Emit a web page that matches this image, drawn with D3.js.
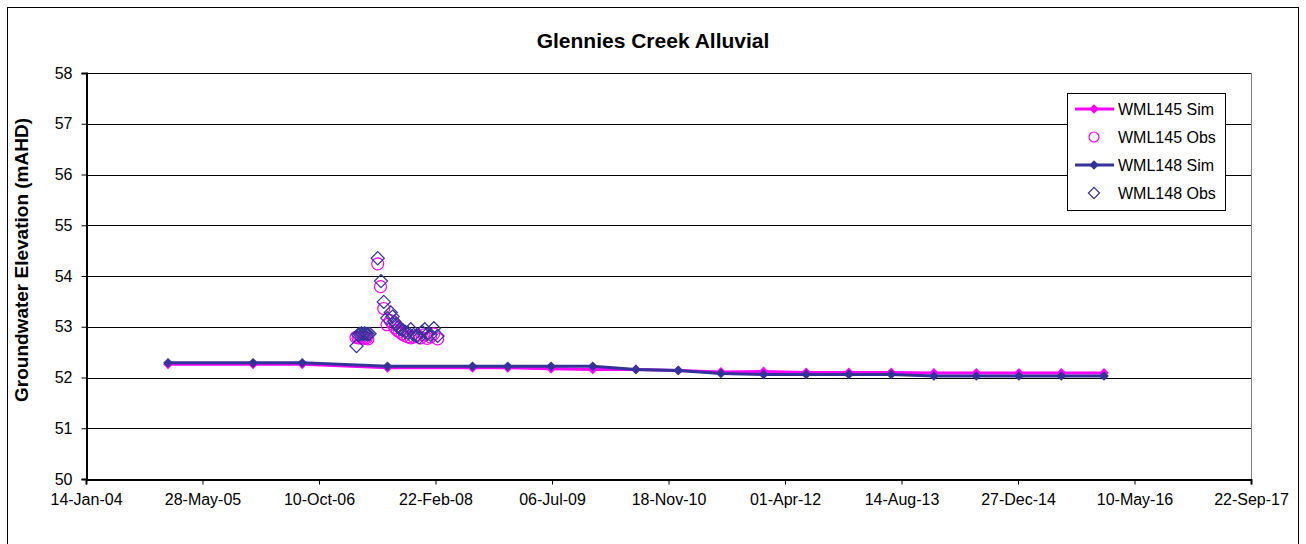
<!DOCTYPE html>
<html>
<head>
<meta charset="utf-8">
<script src="https://cdn.jsdelivr.net/npm/d3@7"></script>
<style>
  body { margin: 0; background: #fff; }
  svg { display: block; font-family: "Liberation Sans", Arial, sans-serif; }
</style>
</head>
<body>
<svg width="1306" height="544"></svg>
<script>
const width = 1306;
const height = 544;

// 模拟值 (Sim) 日期
const simDates = ["2004-12-31", "2005-12-31", "2006-07-30", "2007-07-31", "2008-07-30",
  "2008-12-28", "2009-07-02", "2009-12-28", "2010-07-01", "2010-12-30", "2011-07-01",
  "2011-12-31", "2012-07-01", "2012-12-31", "2013-07-01", "2013-12-31", "2014-07-01",
  "2014-12-31", "2015-07-01", "2015-12-31"];
const wml145Sim = [52.26, 52.26, 52.26, 52.19, 52.19, 52.19, 52.17, 52.16, 52.16, 52.14, 52.11,
  52.12, 52.10, 52.10, 52.10, 52.09, 52.09, 52.09, 52.09, 52.09];
const wml148Sim = [52.29, 52.29, 52.29, 52.22, 52.22, 52.22, 52.22, 52.22, 52.16, 52.14, 52.08,
  52.06, 52.06, 52.06, 52.06, 52.03, 52.03, 52.03, 52.03, 52.03];

// 观测值 (Obs)
const wml145ObsDates = ["2007-03-18", "2007-03-27", "2007-04-03", "2007-04-10", "2007-04-17",
  "2007-04-24", "2007-05-01", "2007-05-08", "2007-06-19", "2007-07-01", "2007-07-15",
  "2007-07-29", "2007-08-12", "2007-08-22", "2007-09-01", "2007-09-11", "2007-09-21",
  "2007-10-01", "2007-10-12", "2007-10-26", "2007-11-08", "2007-11-22", "2007-12-06",
  "2007-12-20", "2008-01-03", "2008-01-17", "2008-01-31", "2008-02-14", "2008-03-02"];
const wml145Obs = [52.79, 52.78, 52.78, 52.79, 52.78, 52.77, 52.78, 52.76, 54.24, 53.79, 53.36,
  53.04, 53.12, 53.05, 52.98, 52.93, 52.90, 52.86, 52.83, 52.80, 52.78, 52.80, 52.83,
  52.78, 52.84, 52.77, 52.80, 52.86, 52.76];
const wml148ObsDates = ["2007-03-20", "2007-03-27", "2007-04-03", "2007-04-10", "2007-04-17",
  "2007-04-24", "2007-05-01", "2007-05-08", "2007-05-15", "2007-06-19", "2007-07-03",
  "2007-07-15", "2007-07-30", "2007-08-14", "2007-08-22", "2007-08-30", "2007-09-07",
  "2007-09-15", "2007-09-23", "2007-10-03", "2007-10-15", "2007-10-27", "2007-11-08",
  "2007-11-20", "2007-12-02", "2007-12-14", "2007-12-26", "2008-01-07", "2008-01-19",
  "2008-02-01", "2008-02-15", "2008-03-02"];
const wml148Obs = [52.62, 52.84, 52.86, 52.87, 52.86, 52.87, 52.86, 52.85, 52.86, 54.35, 53.90,
  53.49, 53.17, 53.28, 53.20, 53.10, 53.05, 52.99, 52.96, 52.94, 52.90, 52.88, 52.95,
  52.84, 52.82, 52.79, 52.90, 52.95, 52.86, 52.84, 52.97, 52.82];

const yTicks = [50, 51, 52, 53, 54, 55, 56, 57, 58];
const xTickLabels = ["14-Jan-04", "28-May-05", "10-Oct-06", "22-Feb-08", "06-Jul-09", "18-Nov-10",
  "01-Apr-12", "14-Aug-13", "27-Dec-14", "10-May-16", "22-Sep-17"];

const parse = d3.timeParse("%Y-%m-%d");
const parseTick = d3.timeParse("%d-%b-%y");
const xTicks = xTickLabels.map(parseTick);

const margin = {left: 86, right: 1251, top: 73, bottom: 479};

const x = d3.scaleTime()
    .domain([xTicks[0], xTicks[xTicks.length - 1]])
    .range([margin.left, margin.right]);
const y = d3.scaleLinear()
    .domain([50, 58])
    .range([margin.bottom, margin.top]);

const svg = d3.select("svg");

// 外框
svg.append("rect")
    .attr("x", 7.5).attr("y", 7.5)
    .attr("width", 1291).attr("height", 545)
    .attr("fill", "none").attr("stroke", "#000").attr("stroke-width", 1);

// 标题
svg.append("text")
    .attr("x", 653).attr("y", 48)
    .attr("text-anchor", "middle")
    .attr("font-size", 21).attr("font-weight", "bold")
    .text("Glennies Creek Alluvial");

// 纵轴标题
svg.append("text")
    .attr("transform", "translate(28,260) rotate(-90)")
    .attr("text-anchor", "middle")
    .attr("font-size", 19).attr("font-weight", "bold")
    .text("Groundwater Elevation (mAHD)");

// 网格线
svg.append("g")
    .selectAll("line")
    .data(yTicks.slice(1))
    .enter().append("line")
    .attr("x1", margin.left).attr("x2", margin.right)
    .attr("y1", d => Math.round(y(d)) + 0.5).attr("y2", d => Math.round(y(d)) + 0.5)
    .attr("stroke", "#000").attr("stroke-width", 1);

// 绘图区右边框
svg.append("line")
    .attr("x1", margin.right + 0.5).attr("x2", margin.right + 0.5)
    .attr("y1", margin.top).attr("y2", margin.bottom)
    .attr("stroke", "#808080");

// 坐标轴
const yAxis = d3.axisLeft(y).tickValues(yTicks).tickSize(5).tickPadding(9).tickFormat(d3.format("d"));
const xAxis = d3.axisBottom(x).tickValues(xTicks).tickSize(5).tickPadding(9).tickFormat(d3.timeFormat("%d-%b-%y"));

const gy = svg.append("g").attr("transform", "translate(" + (margin.left + 0.5) + ",0)").call(yAxis);
const gx = svg.append("g").attr("transform", "translate(0," + (margin.bottom + 0.5) + ")").call(xAxis);
[gx, gy].forEach(g => {
  g.selectAll(".domain").attr("stroke", "#000").attr("stroke-width", 2);
  g.selectAll(".tick line").attr("stroke", "#000");
  g.selectAll("text").attr("font-size", 16).attr("fill", "#000")
      .attr("font-family", "Liberation Sans, Arial, sans-serif");
});

const diamond = d3.symbol().type(d3.symbolDiamond2);
const line = d3.line().x(d => x(d.date)).y(d => y(d.value));

function simData(vals) {
  return simDates.map((d, i) => ({date: parse(d), value: vals[i]}));
}
function obsData(dates, vals) {
  return dates.map((d, i) => ({date: parse(d), value: vals[i]}));
}

// 模拟线
const sims = [
  {name: "WML145 Sim", color: "#ff00ff", data: simData(wml145Sim)},
  {name: "WML148 Sim", color: "#333399", data: simData(wml148Sim)}
];
sims.forEach(s => {
  svg.append("path")
      .datum(s.data)
      .attr("d", line)
      .attr("fill", "none")
      .attr("stroke", s.color)
      .attr("stroke-width", 3);
  svg.append("g").selectAll("path")
      .data(s.data)
      .enter().append("path")
      .attr("transform", d => "translate(" + x(d.date) + "," + y(d.value) + ")")
      .attr("d", diamond.size(60))
      .attr("fill", s.color);
});

// 观测点
svg.append("g").selectAll("circle")
    .data(obsData(wml145ObsDates, wml145Obs))
    .enter().append("circle")
    .attr("cx", d => x(d.date)).attr("cy", d => y(d.value))
    .attr("r", 6)
    .attr("fill", "none").attr("stroke", "#ff00ff").attr("stroke-width", 1.2);

svg.append("g").selectAll("path")
    .data(obsData(wml148ObsDates, wml148Obs))
    .enter().append("path")
    .attr("transform", d => "translate(" + x(d.date) + "," + y(d.value) + ")")
    .attr("d", diamond.size(110))
    .attr("fill", "none").attr("stroke", "#333399").attr("stroke-width", 1.2);

// 图例
const legend = svg.append("g");
legend.append("rect")
    .attr("x", 1067.5).attr("y", 93.5)
    .attr("width", 158).attr("height", 117)
    .attr("fill", "#fff").attr("stroke", "#000");

const legendItems = [
  {name: "WML145 Sim", color: "#ff00ff", kind: "sim"},
  {name: "WML145 Obs", color: "#ff00ff", kind: "circle"},
  {name: "WML148 Sim", color: "#333399", kind: "sim"},
  {name: "WML148 Obs", color: "#333399", kind: "diamond"}
];
legendItems.forEach((d, i) => {
  const cy = 109 + i * 28;
  if (d.kind === "sim") {
    legend.append("line")
        .attr("x1", 1075).attr("x2", 1114)
        .attr("y1", cy).attr("y2", cy)
        .attr("stroke", d.color).attr("stroke-width", 3);
    legend.append("path")
        .attr("transform", "translate(1094," + cy + ")")
        .attr("d", diamond.size(60))
        .attr("fill", d.color);
  } else if (d.kind === "circle") {
    legend.append("circle")
        .attr("cx", 1094).attr("cy", cy).attr("r", 5)
        .attr("fill", "none").attr("stroke", d.color).attr("stroke-width", 1.2);
  } else {
    legend.append("path")
        .attr("transform", "translate(1094," + cy + ")")
        .attr("d", diamond.size(80))
        .attr("fill", "none").attr("stroke", d.color).attr("stroke-width", 1.2);
  }
  legend.append("text")
      .attr("x", 1118).attr("y", cy + 6)
      .attr("font-size", 16)
      .text(d.name);
});
</script>
</body>
</html>
